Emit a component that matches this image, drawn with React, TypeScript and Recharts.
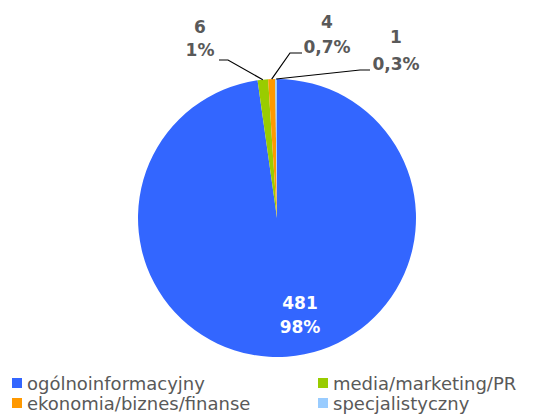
import React from "react";
import { PieChart, Pie, Cell } from "recharts";

const categories = ["ogólnoinformacyjny", "media/marketing/PR", "ekonomia/biznes/finanse", "specjalistyczny"];
const counts = [481, 6, 4, 1];
const percentLabels = ["98%", "1%", "0,7%", "0,3%"];
const colors = ["#3366FF", "#99CC00", "#FF9900", "#99CCFF"];

const data = categories.map((name, i) => ({ name, value: counts[i] }));

const CX = 277;
const CY = 218;
const R = 139;
const FONT = "'DejaVu Sans', sans-serif";
const TEXT = "#595959";

// label layout relative to pie center: elbow, line end, text center, value y, pct y
const labelLayout: Record<number, { ex: number; ey: number; lx: number; tx: number; vy: number; py: number; inside?: boolean }> = {
  0: { ex: 0, ey: 0, lx: 0, tx: 23, vy: 85, py: 109, inside: true },
  1: { ex: -49, ey: -158, lx: -58, tx: -77, vy: -191, py: -168 },
  2: { ex: 13, ey: -165, lx: 25, tx: 50, vy: -196, py: -171 },
  3: { ex: 83, ey: -148, lx: 93, tx: 119, vy: -181, py: -154 },
};

const RAD = Math.PI / 180;

const renderLabel = (props: any) => {
  const { cx, cy, midAngle, outerRadius, index } = props;
  const L = labelLayout[index];
  if (L.inside) {
    return (
      <g>
        <text x={cx + L.tx} y={cy + L.vy} fill="#fff" textAnchor="middle" dominantBaseline="central" fontFamily={FONT} fontWeight="bold" fontSize={17}>
          {counts[index]}
        </text>
        <text x={cx + L.tx} y={cy + L.py} fill="#fff" textAnchor="middle" dominantBaseline="central" fontFamily={FONT} fontWeight="bold" fontSize={17}>
          {percentLabels[index]}
        </text>
      </g>
    );
  }
  const px = cx + outerRadius * Math.cos(-midAngle * RAD);
  const py = cy + outerRadius * Math.sin(-midAngle * RAD);
  return (
    <g>
      <polyline
        points={`${px},${py} ${cx + L.ex},${cy + L.ey} ${cx + L.lx},${cy + L.ey}`}
        fill="none"
        stroke="#000"
        strokeWidth={1.2}
      />
      <text x={cx + L.tx} y={cy + L.vy} fill={TEXT} textAnchor="middle" dominantBaseline="central" fontFamily={FONT} fontWeight="bold" fontSize={17}>
        {counts[index]}
      </text>
      <text x={cx + L.tx} y={cy + L.py} fill={TEXT} textAnchor="middle" dominantBaseline="central" fontFamily={FONT} fontWeight="bold" fontSize={17}>
        {percentLabels[index]}
      </text>
    </g>
  );
};

export default function App() {
  return (
    <div style={{ position: "absolute", left: 0, top: 0, width: 536, height: 414, background: "#fff" }}>
      <PieChart width={536} height={414} margin={{ top: 0, right: 0, bottom: 0, left: 0 }}>
        <Pie
          data={data}
          dataKey="value"
          nameKey="name"
          cx={CX}
          cy={CY}
          outerRadius={R}
          startAngle={90}
          endAngle={-270}
          stroke="none"
          label={renderLabel}
          labelLine={false}
          isAnimationActive={false}
        >
          {data.map((d, i) => (
            <Cell key={d.name} fill={colors[i]} stroke="none" />
          ))}
        </Pie>
      </PieChart>
      <div
        style={{
          position: "absolute",
          left: 12,
          top: 373,
          width: 524,
          display: "grid",
          gridTemplateColumns: "306px 218px",
          rowGap: 0,
          fontFamily: FONT,
          fontSize: 18,
          color: TEXT,
        }}
      >
        {[0, 1, 2, 3].map((i) => (
          <div key={i} style={{ display: "flex", alignItems: "center", height: 20, whiteSpace: "nowrap" }}>
            <span style={{ display: "inline-block", width: 10, height: 10, background: colors[i], marginRight: 5 }} />
            <span>{categories[i]}</span>
          </div>
        ))}
      </div>
    </div>
  );
}
